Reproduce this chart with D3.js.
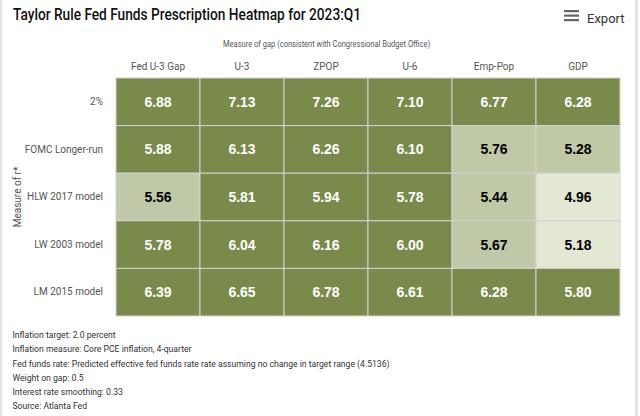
<!DOCTYPE html>
<html><head><meta charset="utf-8">
<script src="https://cdn.jsdelivr.net/npm/d3@7"></script>
<style>body{margin:0;background:#fff;} svg{display:block;font-family:Roboto, "Open Sans", sans-serif;}</style>
</head><body>
<svg id="c" width="640" height="416"></svg>
<script>
const title = "Taylor Rule Fed Funds Prescription Heatmap for 2023:Q1";
const xTitle = "Measure of gap (consistent with Congressional Budget Office)";
const yTitle = "Measure of r*";
const gapMeasures = ["Fed U-3 Gap", "U-3", "ZPOP", "U-6", "Emp-Pop", "GDP"];
const rStarMeasures = ["2%", "FOMC Longer-run", "HLW 2017 model", "LW 2003 model", "LM 2015 model"];
const row2pct = [6.88, 7.13, 7.26, 7.10, 6.77, 6.28];
const rowFOMC = [5.88, 6.13, 6.26, 6.10, 5.76, 5.28];
const rowHLW = [5.56, 5.81, 5.94, 5.78, 5.44, 4.96];
const rowLW = [5.78, 6.04, 6.16, 6.00, 5.67, 5.18];
const rowLM = [6.39, 6.65, 6.78, 6.61, 6.28, 5.80];
const colorThresholds = [5.25, 5.77];
const colorClasses = ["#e3e8d4", "#c0c9a6", "#7a8a4a"];
const notes = [
  "Inflation target: 2.0 percent",
  "Inflation measure: Core PCE inflation, 4-quarter",
  "Fed funds rate: Predicted effective fed funds rate rate assuming no change in target range (4.5136)",
  "Weight on gap: 0.5",
  "Interest rate smoothing: 0.33",
  "Source: Atlanta Fed"
];

const rows = [row2pct, rowFOMC, rowHLW, rowLW, rowLM];
const cells = [];
rows.forEach((r, i) => r.forEach((v, j) => cells.push({row: rStarMeasures[i], col: gapMeasures[j], v})));

const svg = d3.select("#c");
// frame
svg.append("rect").attr("x", 0).attr("y", 0).attr("width", 2).attr("height", 416).attr("fill", "#e4e4e4");
svg.append("rect").attr("x", 635).attr("y", 0).attr("width", 3).attr("height", 416).attr("fill", "#e4e4e4");

const gLeft = 116, gRight = 620, gTop = 78, gBottom = 316;
const x = d3.scaleBand().domain(gapMeasures).range([gLeft, gRight]);
const y = d3.scaleBand().domain(rStarMeasures).range([gTop, gBottom]);
const color = d3.scaleThreshold().domain(colorThresholds).range(colorClasses);

svg.append("text").attr("x", 13).attr("y", 20).attr("font-size", 16).attr("font-weight", 500)
  .attr("fill", "#111").attr("textLength", 348).attr("lengthAdjust", "spacingAndGlyphs").text(title);

// export
const ex = svg.append("g");
[10, 14.5, 19].forEach(yy => ex.append("rect").attr("x", 564).attr("y", yy).attr("width", 15).attr("height", 2.2).attr("fill", "#666"));
ex.append("text").attr("x", 587).attr("y", 22.5).attr("font-size", 13).attr("fill", "#333").text("Export");

svg.append("text").attr("x", (223 + 430) / 2).attr("y", 46.5).attr("text-anchor", "middle")
  .attr("font-size", 9.5).attr("fill", "#555").attr("textLength", 207).attr("lengthAdjust", "spacingAndGlyphs").text(xTitle);

const xAxis = svg.append("g").attr("transform", `translate(0,${gTop - 8})`)
  .call(d3.axisTop(x).tickSize(0).tickPadding(0));
xAxis.select(".domain").remove();
xAxis.selectAll("text").attr("font-size", 10).attr("fill", "#555").attr("font-family", "Roboto, sans-serif");

const yAxis = svg.append("g").attr("transform", `translate(${gLeft - 13},0)`)
  .call(d3.axisLeft(y).tickSize(0).tickPadding(0));
yAxis.select(".domain").remove();
yAxis.selectAll("text").attr("font-size", 10).attr("fill", "#555").attr("font-family", "Roboto, sans-serif");

svg.append("text").attr("transform", `translate(21,${(gTop + gBottom) / 2}) rotate(-90)`)
  .attr("text-anchor", "middle").attr("font-size", 10).attr("fill", "#555").text(yTitle);

const g = svg.append("g");
g.selectAll("rect").data(cells).join("rect")
  .attr("x", d => x(d.col)).attr("y", d => y(d.row))
  .attr("width", x.bandwidth()).attr("height", y.bandwidth())
  .attr("fill", d => color(d.v)).attr("stroke", "#d2d2d2").attr("stroke-width", 1);
g.selectAll("text").data(cells).join("text")
  .attr("x", d => x(d.col) + x.bandwidth() / 2).attr("y", d => y(d.row) + y.bandwidth() / 2 + 5)
  .attr("text-anchor", "middle").attr("font-family", "Arial, 'Liberation Sans', sans-serif")
  .attr("font-weight", "bold").attr("font-size", 14)
  .attr("fill", d => d.v >= colorThresholds[1] ? "#fff" : "#000")
  .text(d => d.v.toFixed(2));

svg.append("g").attr("transform", "translate(12.5,0) scale(0.88,1)")
  .selectAll("text").data(notes).join("text")
  .attr("x", 0).attr("y", (d, i) => 338 + i * 14.3)
  .attr("font-size", 9.8).attr("fill", "#333").text(d => d);
</script>
</body></html>
